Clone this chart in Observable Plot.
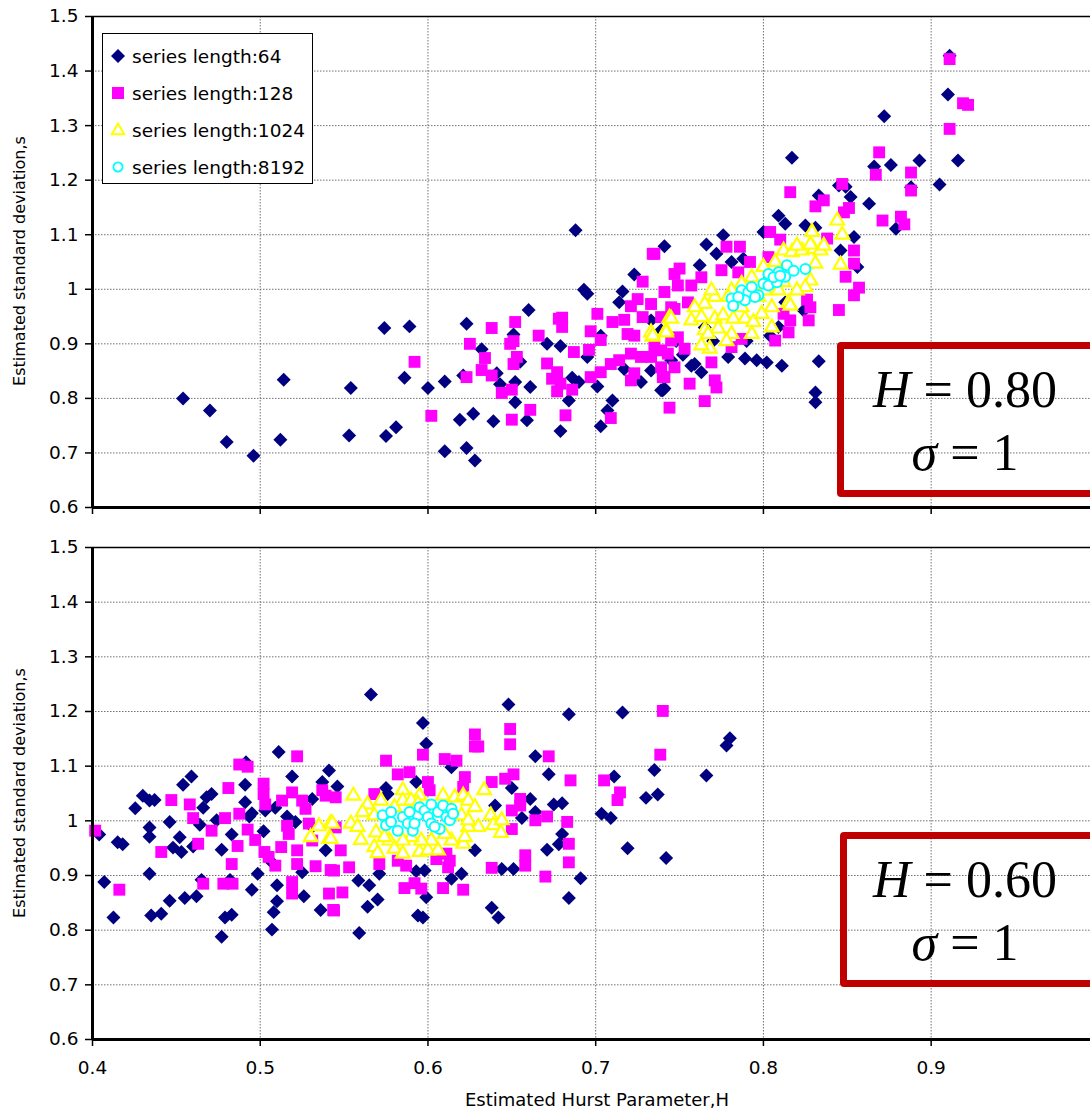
<!DOCTYPE html>
<html><head><meta charset="utf-8">
<script src="https://cdn.jsdelivr.net/npm/d3@7"></script>
<script src="https://cdn.jsdelivr.net/npm/@observablehq/plot@0.6"></script>
<style>
html,body{margin:0;padding:0;background:#fff;overflow:hidden;}
#wrap{position:relative;width:1090px;height:1112px;overflow:hidden;font-family:"DejaVu Sans",sans-serif;color:#000;}
#wrap svg{display:block;}
.legend{position:absolute;left:102px;top:33px;width:211px;height:151px;box-sizing:border-box;border:1px solid #000;background:#fff;}
.legend .row{position:absolute;left:5px;height:24px;display:flex;align-items:center;font-size:18.5px;white-space:nowrap;}
.legend .row svg{margin-right:4px;}
.box{position:absolute;border:7px solid #C00000;border-radius:4px;box-sizing:border-box;}
.boxtext{position:absolute;text-align:center;font-family:"Liberation Serif",serif;font-size:52px;line-height:63px;white-space:nowrap;}
.ylab{position:absolute;width:400px;height:20px;line-height:20px;text-align:center;font-size:16px;transform:rotate(-90deg);white-space:nowrap;}
.xlab{position:absolute;width:400px;height:22px;line-height:22px;text-align:center;font-size:18px;white-space:nowrap;}
</style></head>
<body>
<div id="wrap"></div>
<script>
// ---- axis configuration ----
const xDomain = [0.4, 0.995];
const yDomain = [0.6, 1.5];
const xTicks = [0.4, 0.5, 0.6, 0.7, 0.8, 0.9];
const xTickLabels = ["0.4", "0.5", "0.6", "0.7", "0.8", "0.9"];
const yTicks = [0.6, 0.7, 0.8, 0.9, 1.0, 1.1, 1.2, 1.3, 1.4, 1.5];
const yTickLabels = ["0.6", "0.7", "0.8", "0.9", "1", "1.1", "1.2", "1.3", "1.4", "1.5"];
const seriesNames = ["series length:64", "series length:128", "series length:1024", "series length:8192"];
const yTitle = "Estimated standard deviation,s";
const xTitle = "Estimated Hurst Parameter,H";

// ---- top panel (H = 0.80) : [H, s] ----
const top64 = [[0.454,0.800],[0.470,0.778],[0.480,0.720],[0.496,0.695],[0.512,0.724],[0.514,0.834],[0.553,0.732],[0.554,0.819],[0.574,0.929],[0.589,0.932],[0.575,0.731],[0.581,0.747],[0.586,0.838],[0.600,0.819],[0.610,0.831],[0.610,0.703],[0.623,0.937],[0.619,0.761],[0.623,0.709],[0.621,0.842],[0.628,0.686],
[0.688,1.108],[0.741,1.079],[0.723,1.027],[0.693,0.999],[0.695,0.992],[0.716,0.996],[0.714,0.976],[0.660,0.962],[0.671,0.900],[0.679,0.896],[0.651,0.917],[0.632,0.890],[0.655,0.867],[0.643,0.826],[0.652,0.830],[0.661,0.821],[0.686,0.838],[0.690,0.830],[0.701,0.822],[0.652,0.793],[0.684,0.796],[0.710,0.796],[0.627,0.772],[0.639,0.758],[0.659,0.760],[0.679,0.740],[0.703,0.749],[0.707,0.778],[0.641,0.846],[0.695,0.876],[0.739,0.815],[0.741,0.818],[0.733,0.851],[0.717,0.854],[0.727,0.830],[0.703,0.915],
[0.817,1.241],[0.809,1.135],[0.813,1.120],[0.825,1.117],[0.831,1.113],[0.833,1.172],[0.845,1.190],[0.852,1.169],[0.863,1.157],[0.854,1.096],[0.846,1.071],[0.856,1.041],[0.800,1.105],[0.766,1.082],[0.772,1.065],[0.776,1.099],[0.781,1.050],[0.788,1.056],[0.762,1.044],[0.733,0.943],[0.739,0.925],[0.809,0.931],[0.804,0.915],[0.789,0.873],[0.796,0.870],[0.802,0.866],[0.811,0.860],[0.833,0.868],[0.759,0.863],[0.763,0.848],[0.779,0.876],[0.740,0.815],[0.831,0.811],[0.831,0.793],[0.813,0.976],[0.824,0.961],[0.757,0.860],
[0.911,1.428],[0.910,1.357],[0.872,1.317],[0.866,1.225],[0.876,1.228],[0.893,1.236],[0.916,1.236],[0.888,1.187],[0.905,1.192],[0.849,1.188],[0.879,1.111],
[0.748,0.905],[0.752,0.880],[0.770,0.905],[0.745,0.870],[0.790,0.905],[0.765,0.930]];
const top128 = [[0.592,0.867],[0.602,0.768],[0.623,0.839],[0.625,0.900],
[0.734,1.065],[0.728,1.014],[0.747,1.028],[0.741,0.995],[0.680,0.948],[0.678,0.946],[0.680,0.931],[0.638,0.929],[0.652,0.940],[0.666,0.915],[0.701,0.955],[0.697,0.923],[0.703,0.907],[0.710,0.940],[0.717,0.944],[0.721,0.969],[0.725,0.982],[0.733,0.973],[0.728,0.949],[0.719,0.918],[0.723,0.915],[0.649,0.900],[0.651,0.905],[0.634,0.874],[0.653,0.876],[0.651,0.863],[0.632,0.852],[0.638,0.842],[0.671,0.864],[0.687,0.885],[0.696,0.889],[0.677,0.848],[0.674,0.836],[0.679,0.827],[0.677,0.813],[0.686,0.816],[0.644,0.810],[0.650,0.816],[0.697,0.839],[0.703,0.848],[0.709,0.863],[0.714,0.870],[0.721,0.882],[0.727,0.876],[0.733,0.876],[0.739,0.888],[0.723,0.846],[0.721,0.833],[0.741,0.839],[0.747,0.857],[0.745,0.906],[0.747,0.964],[0.661,0.779],[0.682,0.769],[0.650,0.761],[0.709,0.764],[0.744,0.783],
[0.816,1.178],[0.831,1.152],[0.836,1.163],[0.847,1.193],[0.848,1.141],[0.851,1.149],[0.804,1.105],[0.810,1.091],[0.778,1.078],[0.786,1.078],[0.838,1.093],[0.854,1.071],[0.854,1.047],[0.849,1.023],[0.857,1.003],[0.854,0.989],[0.845,0.962],[0.735,1.065],[0.750,1.038],[0.763,1.022],[0.775,1.035],[0.785,1.031],[0.792,1.050],[0.803,1.059],[0.757,1.007],[0.749,1.007],[0.755,0.976],[0.745,0.967],[0.739,0.949],[0.735,0.894],[0.743,0.882],[0.753,0.891],[0.749,0.912],[0.739,0.857],[0.740,0.839],[0.756,0.827],[0.771,0.833],[0.772,0.820],[0.765,0.795],[0.769,0.866],[0.781,0.894],[0.787,0.909],[0.807,0.906],[0.815,0.921],[0.816,0.943],[0.827,0.943],[0.828,0.967],[0.826,0.981],[0.812,0.955],
[0.911,1.422],[0.919,1.341],[0.922,1.338],[0.911,1.294],[0.869,1.251],[0.867,1.210],[0.888,1.214],[0.888,1.181],[0.871,1.126],[0.882,1.133],[0.884,1.119]];
const top1024 = [[0.733,0.921],[0.734,0.913],[0.744,0.948],[0.742,0.925],
[0.844,1.126],[0.847,1.100],[0.846,1.045],[0.829,1.105],[0.812,1.071],[0.817,1.068],[0.823,1.071],[0.830,1.074],[0.834,1.071],[0.831,1.047],[0.828,1.016],[0.825,1.004],[0.820,0.998],[0.815,0.976],[0.816,0.970],[0.800,1.041],[0.807,1.050],[0.793,1.022],[0.787,1.010],[0.781,0.998],[0.779,0.986],[0.771,0.986],[0.769,0.998],[0.765,0.973],[0.759,0.967],[0.757,0.943],[0.763,0.949],[0.771,0.946],[0.776,0.952],[0.782,0.946],[0.789,0.946],[0.794,0.940],[0.799,0.955],[0.805,0.967],[0.765,0.925],[0.773,0.928],[0.781,0.918],[0.767,0.918],[0.745,0.946],[0.742,0.921],[0.734,0.915],[0.768,0.891],[0.787,0.967],[0.797,0.986],[0.801,0.998],[0.809,0.998],[0.812,1.013],
[0.820,1.080],[0.828,1.082],[0.836,1.080],[0.763,0.897],[0.778,0.905],[0.793,0.918],[0.805,0.930]];
const top8192 = [[0.781,0.983],[0.782,0.970],[0.787,0.998],[0.791,0.995],[0.789,0.980],[0.793,1.004],[0.797,0.989],[0.800,1.010],[0.803,1.007],[0.803,1.028],[0.808,1.013],[0.809,1.031],[0.813,1.023],[0.814,1.044],[0.818,1.034],[0.825,1.037],[0.795,0.986],[0.785,0.986],[0.806,1.022],[0.810,1.025]];

// ---- bottom panel (H = 0.60) : [H, s] ----
const bot64 = [[0.404,0.975],[0.407,0.888],[0.4125,0.823],[0.415,0.961],[0.418,0.957],[0.4255,1.023],[0.430,1.046],[0.434,1.037],[0.437,1.038],[0.434,0.988],[0.434,0.971],[0.434,0.903],[0.435,0.827],[0.441,0.830],[0.446,0.998],[0.452,0.970],[0.448,0.951],[0.453,0.943],[0.446,0.854],[0.454,1.066],[0.459,1.081],[0.455,0.859],[0.462,0.862],[0.460,0.953],[0.464,0.993],[0.466,1.024],[0.468,1.043],[0.471,1.049],[0.474,1.001],[0.465,0.892],[0.477,0.788],[0.479,0.823],[0.483,0.828],[0.477,0.947],[0.483,0.975],[0.482,0.892],[0.4915,1.107],[0.491,1.066],[0.491,1.034],[0.495,1.014],[0.4935,1.008],[0.495,0.874],[0.4985,0.903],[0.502,0.981],[0.507,0.924],[0.507,0.801],[0.508,0.833],[0.510,0.882],[0.510,0.853],[0.511,1.126],[0.509,1.024],[0.503,1.019],[0.519,1.081],[0.516,1.008],[0.521,0.998],[0.526,0.862],[0.525,0.906],[0.531,1.040],[0.539,0.946],[0.536,0.837],[0.541,1.092],[0.546,1.063],[0.537,1.071],[0.531,0.989],
[0.566,1.231],[0.648,1.213],[0.684,1.195],[0.716,1.198],[0.597,1.179],[0.599,1.141],[0.664,1.118],[0.672,1.085],[0.711,1.081],[0.735,1.093],[0.730,1.042],[0.737,1.048],[0.575,1.060],[0.576,1.049],[0.593,1.071],[0.614,1.098],[0.650,1.060],[0.661,1.040],[0.675,1.030],[0.680,1.032],[0.640,1.028],[0.656,1.005],[0.664,1.016],[0.7035,1.013],[0.709,1.005],[0.680,0.976],[0.678,0.957],[0.671,0.947],[0.719,0.950],[0.742,0.932],[0.651,0.912],[0.644,0.912],[0.691,0.895],[0.684,0.859],[0.638,0.841],[0.642,0.823],[0.628,0.946],[0.620,0.903],[0.614,0.894],[0.599,0.860],[0.594,0.827],[0.597,0.823],[0.559,0.795],[0.564,0.843],[0.570,0.856],[0.565,0.882],[0.5585,0.891],[0.571,0.903],[0.593,0.908],[0.598,0.909],
[0.766,1.083],[0.778,1.138],[0.780,1.151]];
const bot128 = [[0.4016,0.982],[0.416,0.874],[0.441,0.943],[0.447,1.038],[0.458,1.030],[0.460,1.005],[0.463,0.958],[0.471,0.982],[0.466,0.885],[0.479,1.005],[0.481,1.060],[0.478,0.885],[0.4835,0.885],[0.483,0.921],[0.4865,0.954],[0.4875,1.013],[0.4875,1.103],[0.4925,1.099],[0.4925,0.984],[0.497,0.965],[0.502,1.068],[0.502,1.049],[0.503,1.030],[0.5025,0.943],[0.505,0.934],[0.509,0.918],[0.5125,0.952],[0.513,1.037],[0.519,1.052],[0.516,0.991],[0.517,0.976],[0.522,1.118],[0.525,1.037],[0.527,1.022],[0.522,0.946],[0.522,0.921],[0.529,0.995],[0.531,0.964],[0.533,0.917],[0.519,0.888],[0.519,0.867],[0.537,1.056],[0.539,1.046],[0.542,0.910],[0.541,0.867],[0.5435,0.837],[0.545,1.043],[0.545,0.988],
[0.740,1.201],[0.628,1.158],[0.628,1.136],[0.630,1.136],[0.649,1.168],[0.649,1.140],[0.7385,1.121],[0.672,1.118],[0.597,1.121],[0.575,1.110],[0.610,1.113],[0.617,1.110],[0.582,1.085],[0.589,1.089],[0.622,1.080],[0.638,1.071],[0.646,1.077],[0.651,1.085],[0.685,1.074],[0.705,1.074],[0.7145,1.052],[0.713,1.038],[0.600,1.071],[0.621,1.062],[0.568,1.049],[0.655,1.040],[0.650,1.019],[0.655,1.028],[0.664,1.001],[0.671,1.008],[0.683,0.998],[0.650,0.985],[0.684,0.958],[0.684,0.924],[0.658,0.937],[0.658,0.918],[0.670,0.898],[0.638,0.914],[0.613,0.927],[0.612,0.915],[0.605,0.930],[0.571,0.921],[0.553,0.915],[0.549,0.869],[0.544,0.836],[0.544,0.909],[0.586,0.877],[0.592,0.886],[0.596,0.876],[0.609,0.877],[0.621,0.874],[0.587,0.918],[0.582,0.927],[0.548,0.946],[0.611,0.940],[0.601,1.056]];
const bot1024 = [[0.530,0.970],[0.535,0.990],[0.542,0.996],[0.541,0.967],
[0.5555,1.046],[0.564,1.030],[0.561,1.016],[0.568,1.010],[0.543,0.995],[0.554,0.995],[0.558,0.989],[0.542,0.967],[0.560,0.965],[0.569,0.979],[0.568,0.952],[0.570,0.941],[0.577,0.964],[0.580,0.949],[0.585,0.940],[0.585,1.056],[0.585,1.037],[0.595,1.046],[0.590,1.037],[0.580,1.025],[0.595,0.943],[0.600,0.946],[0.606,0.946],[0.609,1.046],[0.616,1.043],[0.621,1.046],[0.624,1.037],[0.628,1.025],[0.6335,1.056],[0.6375,1.010],[0.639,0.992],[0.644,1.001],[0.6435,0.978],[0.630,0.989],[0.624,0.989],[0.621,0.958],[0.622,0.970],[0.614,0.964],[0.610,0.976],[0.602,0.964],[0.596,0.964],[0.590,0.970],[0.585,0.964],[0.574,0.970],[0.608,1.019],[0.614,1.019],[0.620,1.010],[0.624,1.001],[0.572,1.037],[0.594,1.031]];
const bot8192 = [[0.573,1.010],[0.575,0.992],[0.578,1.016],[0.578,0.998],[0.582,0.982],[0.585,1.007],[0.588,0.995],[0.591,0.982],[0.594,1.010],[0.595,1.025],[0.598,1.019],[0.600,1.007],[0.602,1.030],[0.602,0.995],[0.606,1.016],[0.607,0.985],[0.609,1.028],[0.611,1.007],[0.614,1.022],[0.613,1.001],[0.615,1.013],[0.592,0.995],[0.589,1.016],[0.604,0.989]];

const colors = {n64: "#000080", n128: "#FF00FF", n1024: "#FFFF00", n8192: "#00FFFF"};

function panel(s64, s128, s1024, s8192, opts) {
  const px = d => d[0], py = d => d[1];
  return Plot.plot({
    width: 1090, height: opts.height,
    marginLeft: 92, marginRight: 0, marginTop: opts.marginTop, marginBottom: opts.marginBottom,
    style: {fontFamily: "DejaVu Sans, sans-serif", background: "transparent", color: "#000", overflow: "visible"},
    x: {domain: xDomain},
    y: {domain: yDomain},
    marks: [
      Plot.gridX(xTicks, {stroke: "#707070", strokeOpacity: 1, strokeDasharray: "1.5,1.5", strokeWidth: 1}),
      Plot.gridY(yTicks, {stroke: "#707070", strokeOpacity: 1, strokeDasharray: "1.5,1.5", strokeWidth: 1}),
      Plot.axisY(yTicks, {tickSize: 7, tickPadding: 7, fontSize: 18.5, stroke: "#000", strokeWidth: 1.5,
        tickFormat: d => yTickLabels[yTicks.indexOf(d)], label: null}),
      Plot.axisX(xTicks, {tickSize: 7, tickPadding: 14, fontSize: 18.5, stroke: "#000", strokeWidth: 1.5,
        tickFormat: opts.showX ? (d => xTickLabels[xTicks.indexOf(d)]) : (() => ""), label: null}),
      Plot.dot(s64, {x: px, y: py, symbol: "diamond2", r: 6.3, fill: colors.n64}),
      Plot.dot(s128, {x: px, y: py, symbol: "square", r: 6.7, fill: colors.n128}),
      Plot.dot(s1024, {x: px, y: py, symbol: "triangle", r: 5.1, fill: "#fff", stroke: colors.n1024, strokeWidth: 2.2}),
      Plot.dot(s8192, {x: px, y: py, symbol: "circle", r: 5, fill: "#fff", stroke: colors.n8192, strokeWidth: 2}),
      Plot.ruleX([xDomain[0]], {stroke: "#000", strokeWidth: 3}),
      Plot.ruleY([yDomain[0]], {stroke: "#000", strokeWidth: 3}),
      Plot.ruleY([yDomain[1]], {stroke: "#000", strokeWidth: 1.5})
    ]
  });
}

const wrap = document.getElementById("wrap");
wrap.appendChild(panel(top64, top128, top1024, top8192, {height: 527, marginTop: 16, marginBottom: 20, showX: false}));
wrap.appendChild(panel(bot64, bot128, bot1024, bot8192, {height: 585, marginTop: 20, marginBottom: 73, showX: true}));

// legend
const legendSymbols = [
  `<svg width="20" height="24" viewBox="-10 -12 20 24"><path d="M0,-7L7,0L0,7L-7,0Z" fill="${colors.n64}"/></svg>`,
  `<svg width="20" height="24" viewBox="-10 -12 20 24"><rect x="-6" y="-6" width="12" height="12" fill="${colors.n128}"/></svg>`,
  `<svg width="20" height="24" viewBox="-10 -12 20 24"><path d="M0,-6.5L6.2,4.3L-6.2,4.3Z" fill="#fff" stroke="${colors.n1024}" stroke-width="2"/></svg>`,
  `<svg width="20" height="24" viewBox="-10 -12 20 24"><circle r="4.6" fill="#fff" stroke="${colors.n8192}" stroke-width="1.8"/></svg>`
];
const rowCenters = [22, 59, 96, 133];
const legend = document.createElement("div");
legend.className = "legend";
seriesNames.forEach((name, i) => {
  const row = document.createElement("div");
  row.className = "row";
  row.style.top = (rowCenters[i] - 12) + "px";
  row.innerHTML = legendSymbols[i] + `<span>${name}</span>`;
  legend.appendChild(row);
});
wrap.appendChild(legend);

// annotation boxes
function annot(boxTop, boxLeft, textTop, hText) {
  const b = document.createElement("div");
  b.className = "box";
  b.style.left = boxLeft + "px"; b.style.top = boxTop + "px";
  b.style.width = "300px"; b.style.height = "155px";
  wrap.appendChild(b);
  const t = document.createElement("div");
  t.className = "boxtext";
  t.style.left = "837px"; t.style.width = "256px"; t.style.top = textTop + "px";
  t.innerHTML = `<div><i>H</i> = ${hText}</div><div><i>σ</i> = 1</div>`;
  wrap.appendChild(t);
}
annot(342, 837, 358, "0.80");
annot(832, 840, 848, "0.60");

// axis titles
[261, 793].forEach(cy => {
  const l = document.createElement("div");
  l.className = "ylab";
  l.style.left = (20 - 200) + "px";
  l.style.top = (cy - 10) + "px";
  l.textContent = yTitle;
  wrap.appendChild(l);
});
const xl = document.createElement("div");
xl.className = "xlab";
xl.style.left = (597 - 200) + "px";
xl.style.top = "1089px";
xl.textContent = xTitle;
wrap.appendChild(xl);
</script>
</body></html>
